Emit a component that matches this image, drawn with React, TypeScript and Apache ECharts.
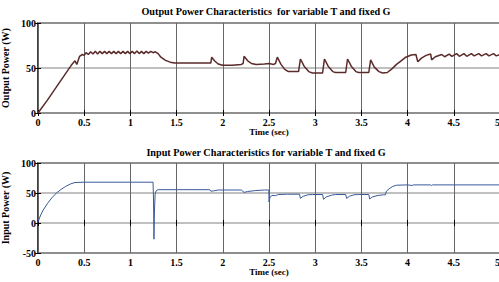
import React, { useEffect, useRef } from "react";
import * as echarts from "echarts";

const timeTicks = ["0", "0.5", "1", "1.5", "2", "2.5", "3", "3.5", "4", "4.5", "5"];

const outputTime = [
  0, 0.1, 0.2, 0.3, 0.36, 0.4, 0.42, 0.45, 0.48, 0.5,
  0.52, 0.545, 0.57, 0.595, 0.62, 0.645, 0.67, 0.695, 0.72, 0.745,
  0.77, 0.795, 0.82, 0.845, 0.87, 0.895, 0.92, 0.945, 0.97, 0.995,
  1.02, 1.045, 1.07, 1.095, 1.12, 1.145, 1.17, 1.195, 1.22, 1.245, 1.27,
  1.3, 1.33, 1.38, 1.43, 1.48, 1.6, 1.75, 1.87, 1.88, 1.91, 1.95, 2.0, 2.1, 2.2,
  2.22, 2.23, 2.27, 2.31, 2.36, 2.45, 2.5, 2.55, 2.57, 2.59, 2.63, 2.67, 2.71, 2.82,
  2.84, 2.88, 2.93, 2.97, 3.08, 3.1, 3.14, 3.19, 3.22, 3.33, 3.35, 3.39, 3.44, 3.47,
  3.58, 3.6, 3.64, 3.69, 3.73, 3.78, 3.83, 3.88, 3.93, 3.98, 4.04, 4.09, 4.11, 4.15,
  4.2, 4.25, 4.26, 4.3, 4.37, 4.4, 4.45, 4.48, 4.53, 4.56, 4.61, 4.64, 4.69, 4.72,
  4.77, 4.8, 4.85, 4.88, 4.93, 4.96, 5.0,
];
const outputPower = [
  0, 14, 29, 44, 53, 58, 54, 63, 65, 64,
  67, 65, 68, 65.5, 68.5, 65.5, 68.5, 66, 68.5, 66,
  68.5, 66, 68.5, 66, 68.5, 66, 68.5, 66, 68.5, 66,
  68.5, 66, 69, 66, 68.5, 66, 68.5, 66.5, 68.5, 67, 68,
  66, 62, 58.5, 56.5, 55.5, 55.5, 55.5, 55.5, 62, 58, 54.5, 53, 53, 54,
  55, 63, 58, 55, 54, 54.5, 55, 54, 55, 62, 54, 48.5, 46, 46,
  60, 52, 46, 44.5, 44.5, 60, 52, 46, 45, 45, 60, 52, 46, 45,
  45, 59, 51, 46, 44.5, 45, 49, 54, 58, 62, 64.5, 65, 57, 61,
  64, 65.5, 59, 62.5, 65, 62.5, 65.5, 63, 66, 63, 66, 63, 66, 63.5,
  66, 63.5, 66, 63.5, 66, 63.5, 65,
];

const inputTime = [
  0, 0.02, 0.05, 0.1, 0.15, 0.2, 0.25, 0.3, 0.35, 0.4, 0.5, 1.0, 1.245,
  1.25, 1.255, 1.26, 1.268, 1.28, 1.3, 1.5, 1.86, 1.87, 1.9, 1.95, 2.2,
  2.23, 2.27, 2.35, 2.45, 2.498, 2.5, 2.51, 2.53, 2.57, 2.6, 2.7, 2.83,
  2.84, 2.87, 2.92, 2.97, 3.08, 3.09, 3.12, 3.18, 3.22, 3.33, 3.34, 3.37,
  3.42, 3.47, 3.58, 3.59, 3.62, 3.68, 3.74, 3.76, 3.77, 3.8, 3.84, 3.88,
  4.0, 4.05, 4.06, 4.25, 4.26, 4.27, 5.0,
];
const inputPower = [
  1, 10, 20, 32, 42, 50, 56, 61, 65, 67.5, 68, 68, 68,
  40, -27, 20, 49, 54, 55.5, 55.5, 55.5, 53, 53.5, 55, 55,
  51, 52.5, 54, 55, 55, 35, 42, 46, 45.5, 47.5, 48, 48,
  41, 44.5, 47, 47.5, 47.5, 39.5, 43.5, 46.5, 47.5, 47.5, 41, 44.5,
  47, 47.5, 47.5, 40, 43.5, 46, 47, 47, 53, 57, 61, 63,
  63.5, 62.5, 63.5, 63.5, 62.5, 63.5, 63.5,
];

const FONT = "'Liberation Serif', 'Times New Roman', serif";

export default function App() {
  const ref = useRef<HTMLDivElement>(null);
  useEffect(() => {
    if (!ref.current) return;
    const chart = echarts.init(ref.current, undefined, { renderer: "svg" });
    const labelStyle = { fontFamily: FONT, fontWeight: "bold" as const, fontSize: 10, color: "#000" };
    const makeX = (gridIndex: number) => [
      {
        type: "value", gridIndex, min: 0, max: 5, interval: 0.5, position: "bottom",
        axisLine: { show: false },
        axisTick: { show: true, inside: true, length: 3, lineStyle: { color: "#000" } },
        axisLabel: { ...labelStyle, margin: 4, alignMaxLabel: "right", formatter: (v: number) => timeTicks[Math.round(v * 2)] ?? String(v) },
        splitLine: { show: true, lineStyle: { color: "#666666", width: 1 } },
        name: "Time (sec)", nameLocation: "middle", nameGap: 13,
        nameTextStyle: { fontFamily: FONT, fontWeight: "bold", fontSize: 9, color: "#000" },
      },
      {
        type: "value", gridIndex, min: 0, max: 5, interval: 0.5, position: "top",
        axisLine: { show: false },
        axisTick: { show: true, inside: true, length: 3, lineStyle: { color: "#000" } },
        axisLabel: { show: false }, splitLine: { show: false },
      },
    ];
    const makeY = (gridIndex: number, min: number, name: string) => [
      {
        type: "value", gridIndex, min, max: 100, interval: 50, position: "left",
        axisLine: { show: false },
        axisTick: { show: true, inside: true, length: 3, lineStyle: { color: "#000" } },
        axisLabel: { ...labelStyle, margin: 2 },
        splitLine: { show: true, lineStyle: { color: "#ababab", width: 1.5 } },
        name, nameLocation: "middle", nameGap: 19,
        nameTextStyle: { fontFamily: FONT, fontWeight: "bold", fontSize: 10, color: "#000" },
      },
      {
        type: "value", gridIndex, min, max: 100, interval: 50, position: "right",
        axisLine: { show: false },
        axisTick: { show: true, inside: true, length: 3, lineStyle: { color: "#000" } },
        axisLabel: { show: false }, splitLine: { show: false },
      },
    ];
    chart.setOption({
      animation: false,
      backgroundColor: "#fff",
      grid: [
        { left: 38, top: 23, width: 462, height: 90, show: true, borderColor: "#000", borderWidth: 1.5, backgroundColor: "transparent", outerBoundsMode: "none", containLabel: false },
        { left: 38, top: 163, width: 462, height: 90, show: true, borderColor: "#000", borderWidth: 1.5, backgroundColor: "transparent", outerBoundsMode: "none", containLabel: false },
      ],
      xAxis: [...makeX(0), ...makeX(1)],
      yAxis: [...makeY(0, 0, "Output Power (W)"), ...makeY(1, -50, "Input Power (W)")],
      graphic: [
        {
          type: "text", x: 266, y: 11,
          style: { text: "Output Power Characteristics  for variable T and fixed G", fontFamily: FONT, fontWeight: "bold", fontSize: 10.2, fill: "#000", textAlign: "center", textVerticalAlign: "middle" },
        },
        {
          type: "text", x: 266, y: 152,
          style: { text: "Input Power Characteristics for variable T and fixed G", fontFamily: FONT, fontWeight: "bold", fontSize: 10.2, fill: "#000", textAlign: "center", textVerticalAlign: "middle" },
        },
      ],
      series: [
        {
          type: "line", xAxisIndex: 0, yAxisIndex: 0, showSymbol: false, symbol: "none",
          lineStyle: { color: "#5b2a2a", width: 1.5 },
          data: outputTime.map((t, i) => [t, outputPower[i]]),
        },
        {
          type: "line", xAxisIndex: 2, yAxisIndex: 2, showSymbol: false, symbol: "none",
          lineStyle: { color: "#3a5a9e", width: 1 },
          data: inputTime.map((t, i) => [t, inputPower[i]]),
        },
      ],
    });
    return () => chart.dispose();
  }, []);
  return (
    <div
      ref={ref}
      style={{ position: "fixed", left: 0, top: 0, width: 502, height: 282, overflow: "hidden" }}
    />
  );
}
